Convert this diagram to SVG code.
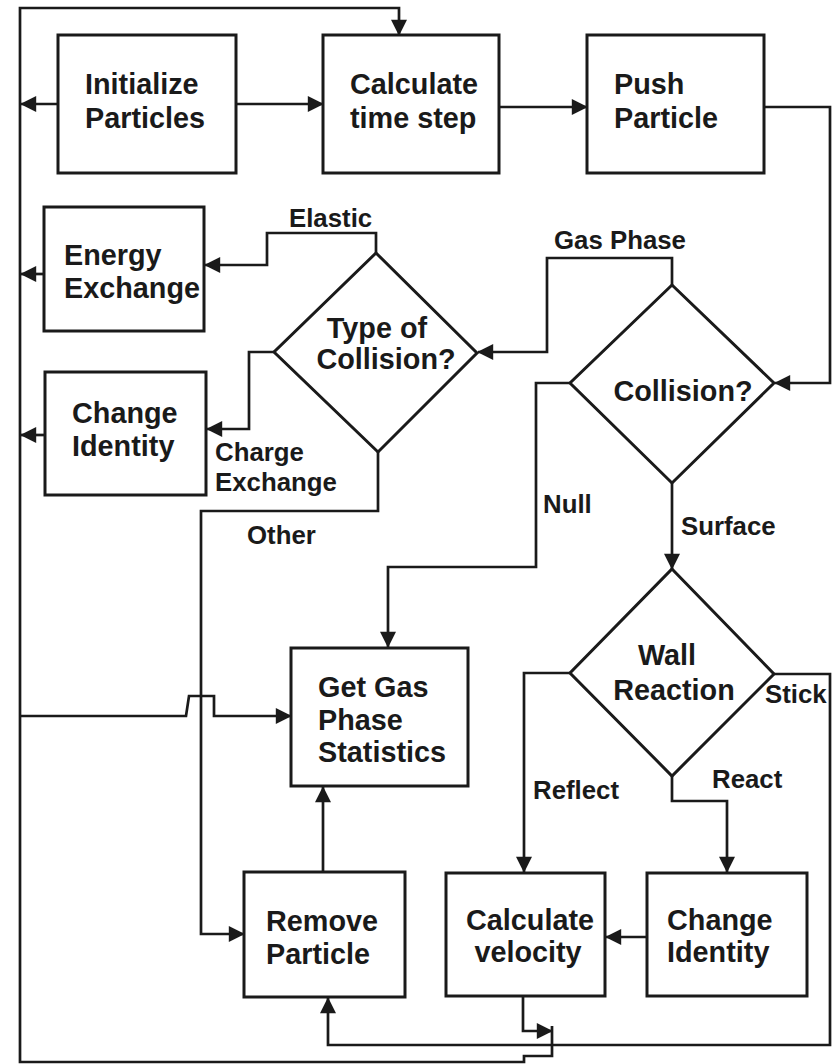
<svg xmlns="http://www.w3.org/2000/svg" width="834" height="1064" viewBox="0 0 834 1064">
<defs>
<style>
.box{fill:#fff;stroke:#1a1a1a;stroke-width:3}
.c{fill:none;stroke:#1a1a1a;stroke-width:2.7}
.t{font-family:"Liberation Sans",Arial,sans-serif;font-weight:bold;font-size:28.8px;fill:#1a1a1a}
.l{font-family:"Liberation Sans",Arial,sans-serif;font-weight:bold;font-size:25.8px;fill:#1a1a1a}
.m{text-anchor:middle}
</style>
<marker id="ah" viewBox="0 0 10 10" refX="9.5" refY="5" markerWidth="17" markerHeight="16" markerUnits="userSpaceOnUse" orient="auto">
<path d="M0,0 L10,5 L0,10 z" fill="#1a1a1a"/>
</marker>
</defs>
<rect width="834" height="1064" fill="#fff"/>
<g id="connectors">
<path class="c" d="M58,104 L21,104" marker-end="url(#ah)"/>
<path class="c" d="M236,104 L323,104" marker-end="url(#ah)"/>
<path class="c" d="M499,107 L587,107" marker-end="url(#ah)"/>
<path class="c" d="M764,107 L830,107 L830,383 L775,383" marker-end="url(#ah)"/>
<path class="c" d="M44,274 L21,274" marker-end="url(#ah)"/>
<path class="c" d="M45,435 L21,435" marker-end="url(#ah)"/>
<path class="c" d="M376,253 L376,233 L267,233 L267,265 L205,265" marker-end="url(#ah)"/>
<path class="c" d="M274,352 L249,352 L249,429 L207,429" marker-end="url(#ah)"/>
<path class="c" d="M378,452 L378,511 L201,511 L201,934 L244,934" marker-end="url(#ah)"/>
<path class="c" d="M672,285 L672,258 L547,258 L547,352 L478,352" marker-end="url(#ah)"/>
<path class="c" d="M570,383 L536,383 L536,567 L388,567 L388,647" marker-end="url(#ah)"/>
<path class="c" d="M672,483 L672,569" marker-end="url(#ah)"/>
<path class="c" d="M570,673 L524,673 L524,872" marker-end="url(#ah)"/>
<path class="c" d="M672,776 L672,801 L727,801 L727,872" marker-end="url(#ah)"/>
<path class="c" d="M774,674 L830,674 L830,1045 L328,1045 L328,998" marker-end="url(#ah)"/>
<path class="c" d="M647,937 L606,937" marker-end="url(#ah)"/>
<path class="c" d="M323,872 L323,787" marker-end="url(#ah)"/>
<path class="c" d="M20,716 L186,716 L189,696 L214,696 L214,716 L291,716" marker-end="url(#ah)"/>
<path class="c" d="M523,996 L523,1031 L552,1031" marker-end="url(#ah)"/>
<path class="c" d="M552,1026 L552,1056 L524,1056 L524,1062 L20,1062 L20,8 L399,8 L399,35" marker-end="url(#ah)"/>
</g>
<g id="init"><rect class="box" x="58" y="35" width="178" height="138"/>
<text class="t" x="85" y="94">Initialize</text><text class="t" x="85" y="128">Particles</text></g>
<g id="calcstep"><rect class="box" x="323" y="35" width="176" height="138"/>
<text class="t" x="350" y="94">Calculate</text><text class="t" x="350" y="128">time step</text></g>
<g id="push"><rect class="box" x="587" y="35" width="177" height="138"/>
<text class="t" x="614" y="94">Push</text><text class="t" x="614" y="128">Particle</text></g>
<g id="energy"><rect class="box" x="44" y="207" width="160" height="124"/>
<text class="t" x="64" y="265">Energy</text><text class="t" x="64" y="298">Exchange</text></g>
<g id="changeid1"><rect class="box" x="45" y="372" width="161" height="123"/>
<text class="t" x="72" y="423">Change</text><text class="t" x="72" y="456">Identity</text></g>
<g id="typecoll"><polygon class="box" points="376,253 477,353 378,452 274,352"/>
<text class="t m" x="377" y="338">Type of</text><text class="t m" x="386" y="369">Collision?</text></g>
<g id="collision"><polygon class="box" points="672,285 774,383 672,483 570,383"/>
<text class="t m" x="683" y="401">Collision?</text></g>
<g id="wall"><polygon class="box" points="672,569 774,674 672,776 570,673"/>
<text class="t m" x="667" y="665">Wall</text><text class="t m" x="674" y="700">Reaction</text></g>
<g id="getgas"><rect class="box" x="291" y="648" width="177" height="138"/>
<text class="t" x="318" y="697">Get Gas</text><text class="t" x="318" y="730">Phase</text><text class="t" x="318" y="762">Statistics</text></g>
<g id="remove"><rect class="box" x="244" y="872" width="161" height="125"/>
<text class="t" x="266" y="931">Remove</text><text class="t" x="266" y="964">Particle</text></g>
<g id="calcvel"><rect class="box" x="446" y="873" width="159" height="123"/>
<text class="t m" x="530" y="930">Calculate</text><text class="t m" x="528" y="962">velocity</text></g>
<g id="changeid2"><rect class="box" x="647" y="873" width="160" height="123"/>
<text class="t" x="667" y="930">Change</text><text class="t" x="667" y="962">Identity</text></g>
<g id="labels">
<text class="l" x="289" y="227">Elastic</text>
<text class="l" x="554" y="249">Gas Phase</text>
<text class="l" x="215" y="461">Charge</text>
<text class="l" x="215" y="491">Exchange</text>
<text class="l" x="247" y="544">Other</text>
<text class="l" x="543" y="513">Null</text>
<text class="l" x="681" y="535">Surface</text>
<text class="l" x="533" y="799">Reflect</text>
<text class="l" x="712" y="788">React</text>
<text class="l" x="765" y="703">Stick</text>
</g>
</svg>
